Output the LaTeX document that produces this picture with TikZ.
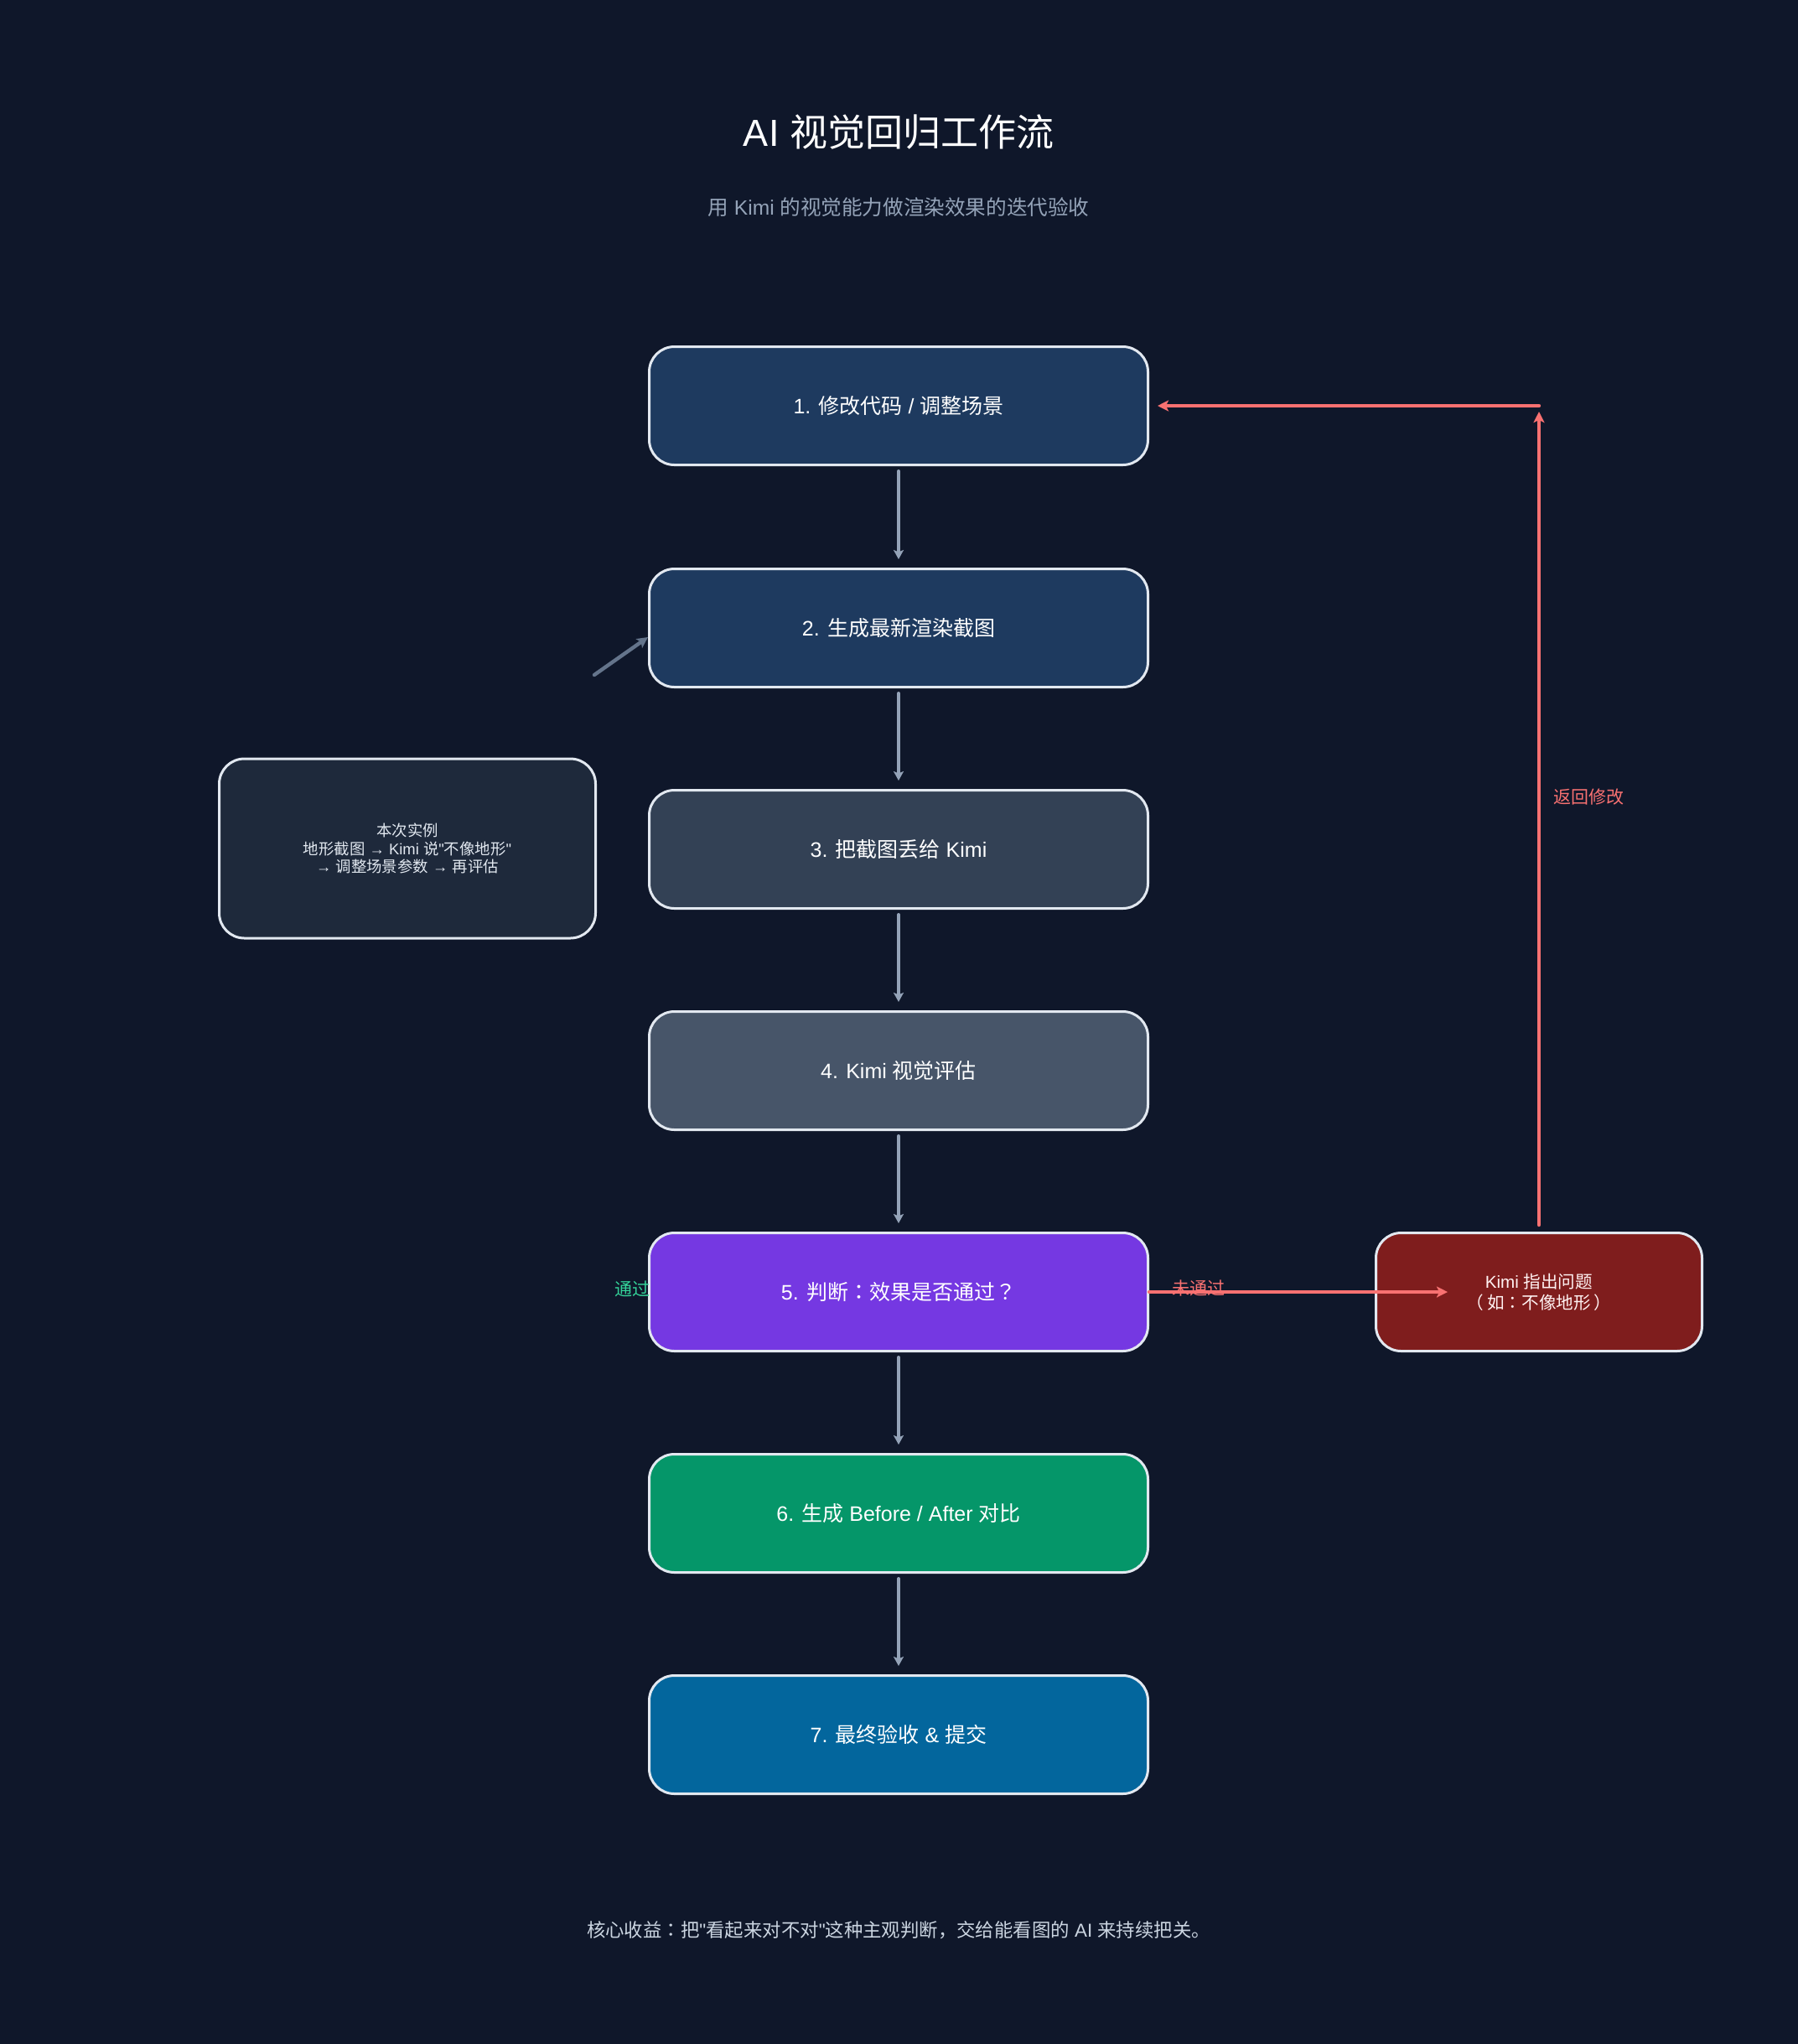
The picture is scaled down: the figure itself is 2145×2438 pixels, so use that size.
\documentclass[tikz,border=0pt]{standalone}
\usepackage{fontspec}
\setmainfont{Liberation Sans}
\newfontfamily\cjkfont{Noto Sans CJK SC}
\newfontfamily\punctfont{Noto Sans CJK TC}
\newfontfamily\latfont{Liberation Sans}
\usetikzlibrary{arrows.meta}
\XeTeXinterchartokenstate=1
\newXeTeXintercharclass\CJKcls
\newXeTeXintercharclass\Pcls
\newcount\cjkc
\cjkc="4E00
\loop \XeTeXcharclass\cjkc=\CJKcls \advance\cjkc by 1 \ifnum\cjkc<"A000 \repeat
\cjkc="3000
\loop \XeTeXcharclass\cjkc=\CJKcls \advance\cjkc by 1 \ifnum\cjkc<"3040 \repeat
\cjkc="FF00
\loop \XeTeXcharclass\cjkc=\CJKcls \advance\cjkc by 1 \ifnum\cjkc<"FFF0 \repeat
\XeTeXcharclass"FF1A=\Pcls
\XeTeXcharclass"FF1F=\Pcls
\XeTeXcharclass"FF08=\Pcls
\XeTeXcharclass"FF09=\Pcls
\XeTeXinterchartoks 0 \CJKcls = {\cjkfont}
\XeTeXinterchartoks 4095 \CJKcls = {\cjkfont}
\XeTeXinterchartoks \Pcls \CJKcls = {\cjkfont}
\XeTeXinterchartoks 0 \Pcls = {\punctfont}
\XeTeXinterchartoks 4095 \Pcls = {\punctfont}
\XeTeXinterchartoks \CJKcls \Pcls = {\punctfont}
\XeTeXinterchartoks \CJKcls 0 = {\latfont}
\XeTeXinterchartoks \CJKcls 4095 = {\latfont}
\XeTeXinterchartoks \Pcls 0 = {\latfont}
\XeTeXinterchartoks \Pcls 4095 = {\latfont}
\definecolor{bgc}{HTML}{0F172A}
\definecolor{boxline}{HTML}{E2E8F0}
\definecolor{c1}{HTML}{1E3A5F}
\definecolor{c3}{HTML}{334155}
\definecolor{c4}{HTML}{475569}
\definecolor{c5}{HTML}{7538E2}
\definecolor{c6}{HTML}{059669}
\definecolor{c7}{HTML}{03669D}
\definecolor{cred}{HTML}{7F1D1D}
\definecolor{cside}{HTML}{1E293B}
\definecolor{arrowgray}{HTML}{94A3B8}
\definecolor{diaggray}{HTML}{64748B}
\definecolor{redc}{HTML}{F87171}
\definecolor{greenc}{HTML}{34D399}
\definecolor{subc}{HTML}{94A3B8}
\definecolor{footc}{HTML}{CBD5E1}
\tikzset{
  box/.style={draw=boxline, line width=1.5pt, rounded corners=15pt,
    minimum width=297.5pt, minimum height=70.5pt, inner sep=0pt,
    text=white, font=\fontsize{12.5pt}{15pt}\selectfont},
  garrow/.style={draw=arrowgray, line width=2pt, line cap=round,
    -{Stealth[length=5.5pt,width=6pt,inset=1.2pt]}},
  darrow/.style={draw=diaggray, line width=2.2pt, line cap=round,
    -{Stealth[length=6.5pt,width=6.5pt,inset=1.5pt]}},
  rarrow/.style={draw=redc, line width=2.2pt, line cap=round,
    -{Stealth[length=6.5pt,width=6.5pt,inset=1.5pt]}},
  lbl/.style={font=\fontsize{10.5pt}{12pt}\selectfont, inner sep=0pt}
}
\begin{document}
\begin{tikzpicture}[x=0.5pt,y=-0.5pt]
\fill[bgc] (0,0) rectangle (2145,2438);
\useasboundingbox (0,0) rectangle (2145,2438);

\node[text=white, font=\fontsize{22.5pt}{27pt}\selectfont] (title) at (1072,157) {AI 视觉回归工作流};
\node[text=subc, font=\fontsize{12.3pt}{15pt}\selectfont] (sub) at (1072,247) {用 Kimi 的视觉能力做渲染效果的迭代验收};

\node[box, fill=c1] (b1) at (1072,484) {1. 修改代码 / 调整场景};
\node[box, fill=c1] (b2) at (1072,749) {2. 生成最新渲染截图};
\node[box, fill=c3] (b3) at (1072,1013) {3. 把截图丢给 Kimi};
\node[box, fill=c4] (b4) at (1072,1277) {4. Kimi 视觉评估};
\node[box, fill=c5] (b5) at (1072,1541) {5. 判断：效果是否通过？};
\node[box, fill=c6] (b6) at (1072,1805) {6. 生成 Before / After 对比};
\node[box, fill=c7] (b7) at (1072,2069) {7. 最终验收 \& 提交};

\node[box, fill=cred, minimum width=194.5pt, text=red!5!white, align=center,
  font=\fontsize{10.3pt}{12.5pt}\selectfont] (rb) at (1836,1541) {Kimi 指出问题\\（\hspace{0.2em}如：不像地形\hspace{0.2em}）};

\node[box, fill=cside, minimum width=224.5pt, minimum height=107pt, align=center,
  text=boxline, font=\fontsize{9.2pt}{10.6pt}\selectfont] (side) at (486,1012)
  {本次实例\\地形截图 → Kimi 说"不像地形"\\→ 调整场景参数 → 再评估};

\node[text=footc, font=\fontsize{11.2pt}{14pt}\selectfont] (foot) at (1072,2302)
  {核心收益：把"看起来对不对"这种主观判断，交给能看图的 AI 来持续把关。};

\foreach \a/\b in {b1/b2,b2/b3,b3/b4,b4/b5,b5/b6,b6/b7}
  \draw[garrow, shorten <=3pt, shorten >=5pt] (\a.south) -- (\b.north);

\coordinate (ds) at (709,805);
\draw[darrow] (ds) -- ([yshift=-5.5pt]b2.west);

\coordinate (nt) at (1727,1541);
\draw[rarrow] (b5.east) -- (nt);
\node[lbl, text=redc] (nolbl) at (1430,1537) {未通过};
\node[lbl, text=greenc, anchor=east] (yeslbl) at (776,1537) {通过};

\coordinate (corner) at (1836,484);
\draw[rarrow] ([yshift=4pt]rb.north) -- ([yshift=-3.5pt]corner);
\draw[rarrow] (corner) -- ([xshift=5pt]b1.east);
\node[lbl, text=redc] (backlbl) at (1895,951) {返回修改};
\end{tikzpicture}
\end{document}
